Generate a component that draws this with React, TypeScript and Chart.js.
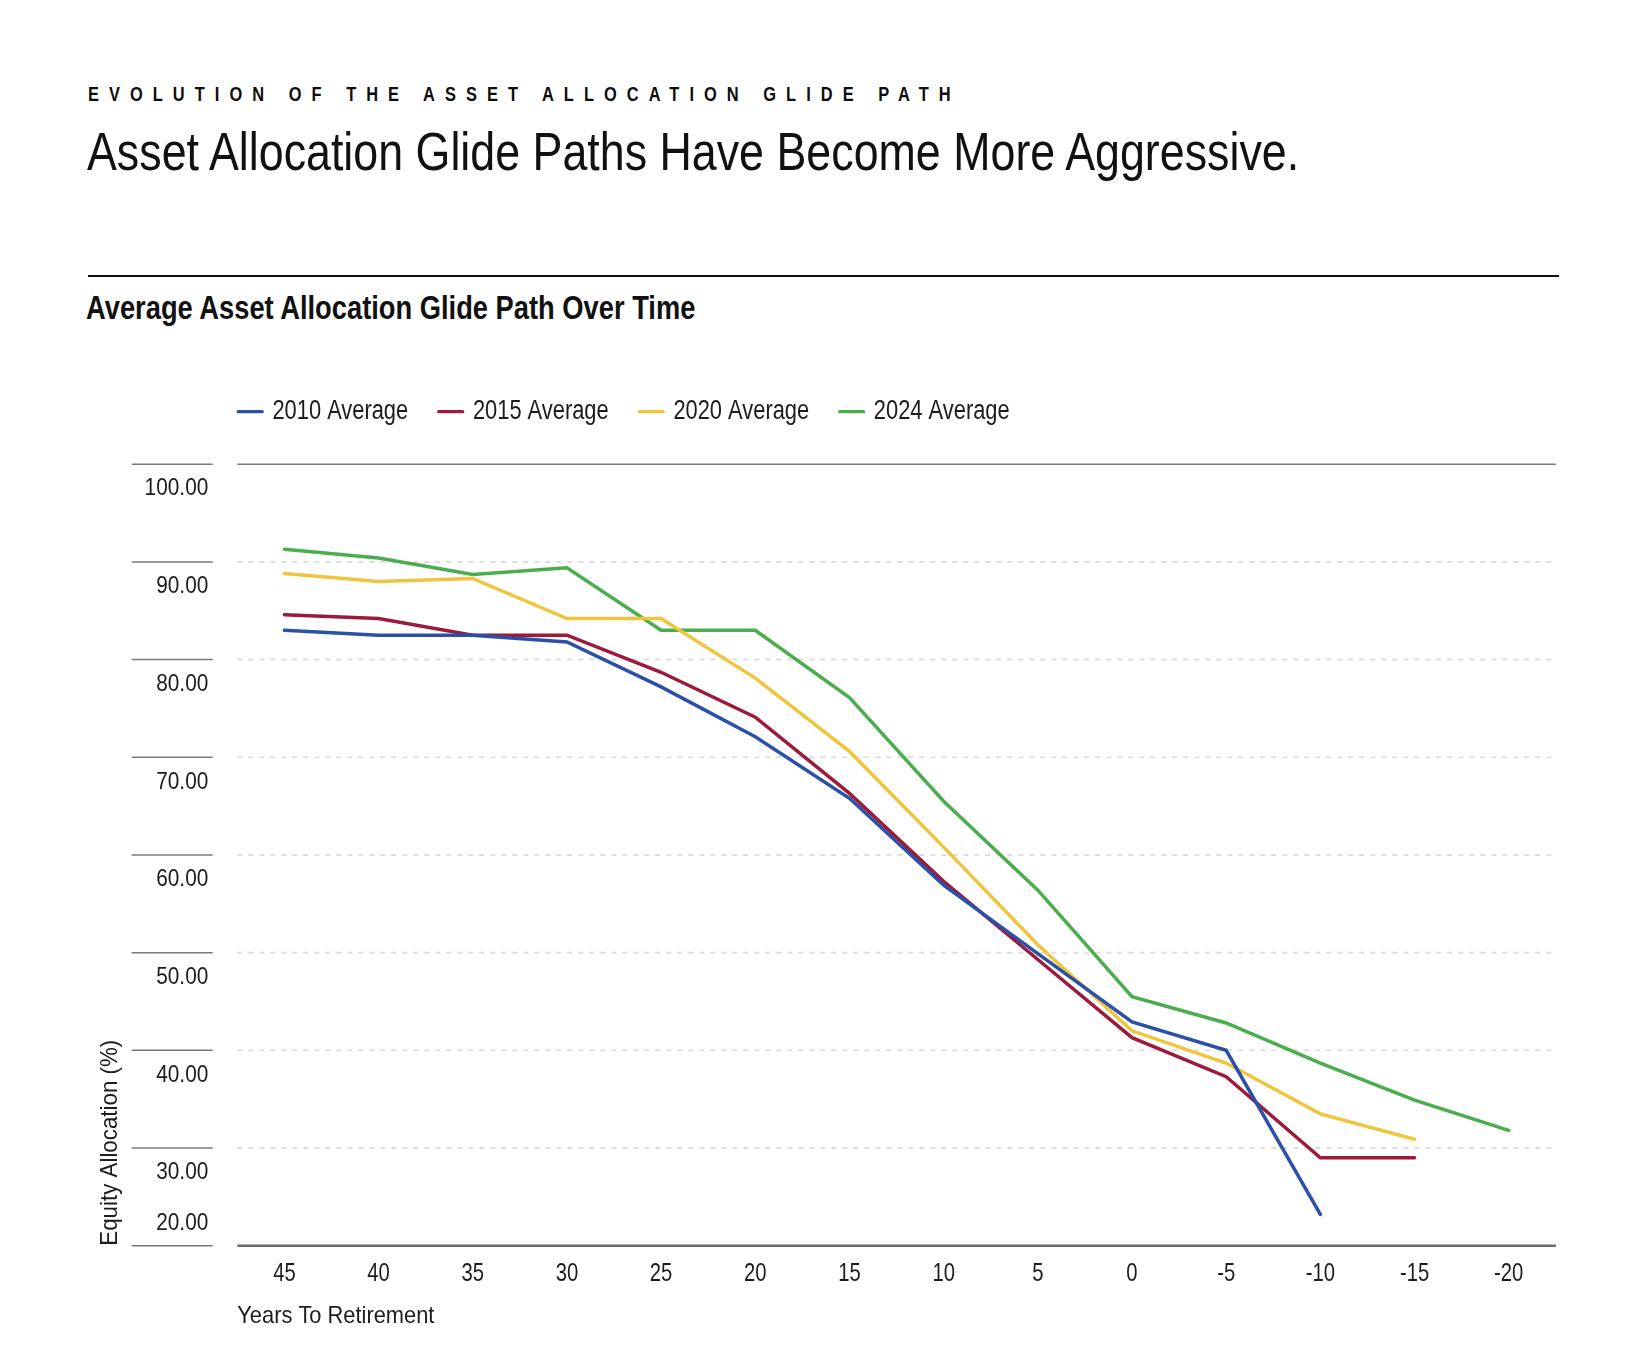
import React, { useEffect, useRef } from 'react';
import { Chart, registerables } from 'chart.js';

Chart.register(...registerables);

// ---------- data ----------
const yearsToRetirement = ['45', '40', '35', '30', '25', '20', '15', '10', '5', '0', '-5', '-10', '-15', '-20'];
const avg2010 = [83.0, 82.5, 82.5, 81.8, 77.2, 72.1, 65.8, 56.9, 49.9, 42.9, 40.0, 23.2, null, null];
const avg2015 = [84.6, 84.2, 82.5, 82.5, 78.7, 74.1, 66.3, 57.3, 49.3, 41.3, 37.3, 29.0, 29.0, null];
const avg2020 = [88.8, 88.0, 88.3, 84.2, 84.2, 78.1, 70.6, 60.8, 50.8, 42.0, 38.7, 33.5, 30.9, null];
const avg2024 = [91.3, 90.4, 88.7, 89.4, 83.0, 83.0, 76.1, 65.5, 56.4, 45.5, 42.8, 38.7, 34.9, 31.8];
const seriesNames = ['2010 Average', '2015 Average', '2020 Average', '2024 Average'];
const seriesColors = ['#2b50a8', '#9b1b3b', '#f0c53e', '#4cad4e'];
const yTickValues = [100, 90, 80, 70, 60, 50, 40, 30, 20];

const kicker = 'EVOLUTION OF THE ASSET ALLOCATION GLIDE PATH';
const title = 'Asset Allocation Glide Paths Have Become More Aggressive.';
const subtitle = 'Average Asset Allocation Glide Path Over Time';
const xTitle = 'Years To Retirement';
const yTitle = 'Equity Allocation (%)';

const FONT = "'Liberation Sans', Arial, sans-serif";
const TEXT = '#1c1c1c';
const CANVAS_TOP = 340;

// draw horizontally condensed text
function condText(
  ctx: CanvasRenderingContext2D,
  text: string,
  x: number,
  y: number,
  size: number,
  k: number,
  align: CanvasTextAlign,
  rotate = 0,
) {
  ctx.save();
  ctx.translate(x, y);
  if (rotate) ctx.rotate(rotate);
  ctx.scale(k, 1);
  ctx.font = `${size}px ${FONT}`;
  ctx.fillStyle = TEXT;
  ctx.textAlign = align;
  ctx.textBaseline = 'middle';
  ctx.fillText(text, 0, 0);
  ctx.restore();
}

const decorPlugin = {
  id: 'glideDecor',
  beforeDatasetsDraw(chart: any) {
    const { ctx, chartArea, scales } = chart;
    const y = scales.y;
    const x = scales.x;
    ctx.save();
    // dashed grid lines
    yTickValues.forEach((v) => {
      if (v === 100 || v === 20) return;
      const py = y.getPixelForValue(v);
      ctx.beginPath();
      ctx.setLineDash([5, 6]);
      ctx.strokeStyle = '#dedede';
      ctx.lineWidth = 2;
      ctx.moveTo(chartArea.left, py);
      ctx.lineTo(chartArea.right, py);
      ctx.stroke();
    });
    ctx.setLineDash([]);
    // top solid line
    const pTop = y.getPixelForValue(100);
    ctx.beginPath();
    ctx.strokeStyle = '#7a7a7a';
    ctx.lineWidth = 1.5;
    ctx.moveTo(chartArea.left, pTop);
    ctx.lineTo(chartArea.right, pTop);
    ctx.stroke();
    // bottom axis line
    const pBot = y.getPixelForValue(20);
    ctx.beginPath();
    ctx.strokeStyle = '#6a6a6a';
    ctx.lineWidth = 2.5;
    ctx.moveTo(chartArea.left, pBot);
    ctx.lineTo(chartArea.right, pBot);
    ctx.stroke();
    // left tick marks and labels
    yTickValues.forEach((v) => {
      const py = y.getPixelForValue(v);
      ctx.beginPath();
      ctx.strokeStyle = '#7a7a7a';
      ctx.lineWidth = 1.5;
      ctx.moveTo(chartArea.left - 105.6, py);
      ctx.lineTo(chartArea.left - 24.6, py);
      ctx.stroke();
      const ly = v === 20 ? py - 22.5 : py + 24.5;
      condText(ctx, v.toFixed(2), chartArea.left - 29, ly, 24.5, 0.85, 'right');
    });
    // x tick labels
    yearsToRetirement.forEach((lab, i) => {
      const px = x.getPixelForTick(i);
      condText(ctx, lab, px, pBot + 28, 25, 0.81, 'center');
    });
    // axis titles
    condText(ctx, xTitle, chartArea.left, pBot + 70.5, 24, 0.91, 'left');
    condText(ctx, yTitle, 110, pBot, 24, 0.93, 'left', -Math.PI / 2);
    ctx.restore();
  },
  afterDraw(chart: any) {
    const { ctx, chartArea } = chart;
    ctx.save();
    let x = chartArea.left - 0.6;
    const ly = 411.7 - CANVAS_TOP;
    const k = 0.81;
    chart.data.datasets.forEach((ds: any) => {
      ctx.beginPath();
      ctx.strokeStyle = ds.borderColor;
      ctx.lineWidth = 3.3;
      ctx.lineCap = 'round';
      ctx.moveTo(x + 1.5, ly);
      ctx.lineTo(x + 25.5, ly);
      ctx.stroke();
      condText(ctx, ds.label, x + 35.7, ly, 27, k, 'left');
      ctx.font = `27px ${FONT}`;
      const w = ctx.measureText(ds.label).width * k;
      x += 35.7 + w + 29;
    });
    ctx.restore();
  },
};

function GlideChart() {
  const ref = useRef<HTMLCanvasElement | null>(null);
  useEffect(() => {
    if (!ref.current) return;
    const mk = (label: string, data: (number | null)[], color: string) => ({
      label,
      data,
      borderColor: color,
      backgroundColor: color,
      borderWidth: 3.5,
      pointRadius: 0,
      pointHoverRadius: 0,
      tension: 0,
      spanGaps: false,
      borderCapStyle: 'round' as const,
      borderJoinStyle: 'miter' as const,
      fill: false,
    });
    const chart = new Chart(ref.current, {
      type: 'line',
      data: {
        labels: yearsToRetirement,
        datasets: [
          mk(seriesNames[0], avg2010, seriesColors[0]),
          mk(seriesNames[1], avg2015, seriesColors[1]),
          mk(seriesNames[2], avg2020, seriesColors[2]),
          mk(seriesNames[3], avg2024, seriesColors[3]),
        ],
      },
      options: {
        animation: false,
        responsive: true,
        maintainAspectRatio: false,
        layout: { padding: { top: 124.2, right: 90.2, left: 0, bottom: 0 } },
        plugins: {
          legend: { display: false },
          tooltip: { enabled: false },
        },
        scales: {
          x: {
            type: 'category',
            offset: true,
            grid: { display: false, drawTicks: false },
            border: { display: false },
            ticks: { display: false, autoSkip: false },
            afterFit: (s: any) => {
              s.height = 1032 - 905.7;
            },
          },
          y: {
            min: 20,
            max: 100,
            grid: { display: false, drawTicks: false },
            border: { display: false },
            ticks: { display: false, stepSize: 10 },
            afterFit: (s: any) => {
              s.width = 237.3;
            },
          },
        },
      },
      plugins: [decorPlugin],
    });
    return () => chart.destroy();
  }, []);
  return (
    <div style={{ position: 'absolute', left: 0, top: CANVAS_TOP, width: 1646, height: 1032 }}>
      <canvas ref={ref} />
    </div>
  );
}

export default function App() {
  return (
    <div
      style={{
        position: 'absolute',
        left: 0,
        top: 0,
        width: 1646,
        height: 1372,
        overflow: 'hidden',
        background: '#fff',
        fontFamily: FONT,
      }}
    >
      <div
        style={{
          position: 'absolute',
          left: 88.3,
          top: 84.1,
          fontSize: 20,
          lineHeight: '20px',
          fontWeight: 700,
          letterSpacing: '12.25px',
          color: '#0d0d0d',
          whiteSpace: 'nowrap',
          transform: 'scaleX(0.82)',
          transformOrigin: '0 0',
        }}
      >
        {kicker}
      </div>
      <div
        style={{
          position: 'absolute',
          left: 87,
          top: 124.7,
          fontSize: 53.5,
          lineHeight: '53.5px',
          fontWeight: 400,
          color: '#111',
          whiteSpace: 'nowrap',
          transform: 'scaleX(0.837)',
          transformOrigin: '0 0',
        }}
      >
        {title}
      </div>
      <div style={{ position: 'absolute', left: 88, top: 274.7, width: 1471, height: 2, background: '#111' }} />
      <div
        style={{
          position: 'absolute',
          left: 85.5,
          top: 291.8,
          fontSize: 32.5,
          lineHeight: '32.5px',
          fontWeight: 700,
          color: '#111',
          whiteSpace: 'nowrap',
          transform: 'scaleX(0.84)',
          transformOrigin: '0 0',
        }}
      >
        {subtitle}
      </div>
      <GlideChart />
    </div>
  );
}
